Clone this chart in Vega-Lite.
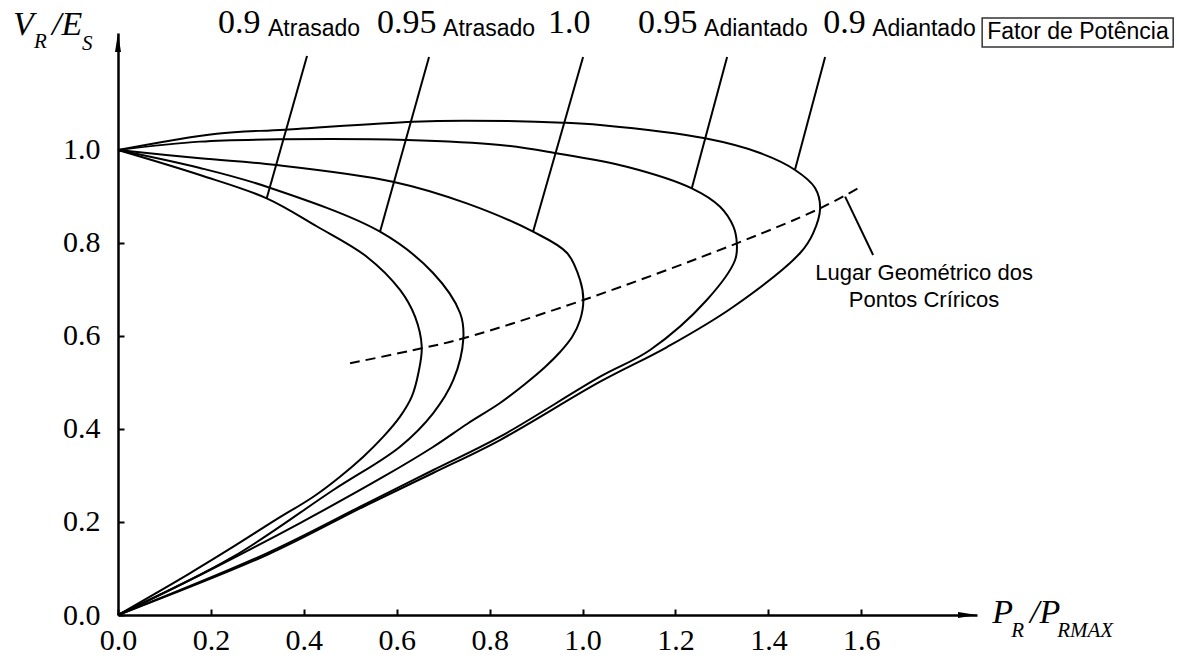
{
  "$schema": "https://vega.github.io/schema/vega-lite/v6.json",
  "width": 859,
  "height": 582,
  "autosize": {"type": "none"},
  "padding": {"left": 118, "top": 33, "right": 202, "bottom": 51},
  "background": "white",
  "config": {"view": {"stroke": null}},
  "datasets": {
    "curves": [
      {"c": "09lag", "i": 0, "x": 0, "y": 1},
      {"c": "09lag", "i": 1, "x": 0.1765, "y": 0.9462},
      {"c": "09lag", "i": 2, "x": 0.3201, "y": 0.8961},
      {"c": "09lag", "i": 3, "x": 0.4276, "y": 0.836},
      {"c": "09lag", "i": 4, "x": 0.5354, "y": 0.7706},
      {"c": "09lag", "i": 5, "x": 0.6071, "y": 0.699},
      {"c": "09lag", "i": 6, "x": 0.6394, "y": 0.6415},
      {"c": "09lag", "i": 7, "x": 0.6538, "y": 0.577},
      {"c": "09lag", "i": 8, "x": 0.6465, "y": 0.5198},
      {"c": "09lag", "i": 9, "x": 0.6323, "y": 0.4695},
      {"c": "09lag", "i": 10, "x": 0.6071, "y": 0.4265},
      {"c": "09lag", "i": 11, "x": 0.5712, "y": 0.3835},
      {"c": "09lag", "i": 12, "x": 0.5281, "y": 0.3405},
      {"c": "09lag", "i": 13, "x": 0.4779, "y": 0.2975},
      {"c": "09lag", "i": 14, "x": 0.4205, "y": 0.2544},
      {"c": "09lag", "i": 15, "x": 0.34, "y": 0.205},
      {"c": "09lag", "i": 16, "x": 0.25, "y": 0.148},
      {"c": "09lag", "i": 17, "x": 0.15, "y": 0.087},
      {"c": "09lag", "i": 18, "x": 0, "y": 0},
      {"c": "095lag", "i": 0, "x": 0, "y": 1},
      {"c": "095lag", "i": 1, "x": 0.1765, "y": 0.9613},
      {"c": "095lag", "i": 2, "x": 0.3201, "y": 0.921},
      {"c": "095lag", "i": 3, "x": 0.564, "y": 0.8243},
      {"c": "095lag", "i": 4, "x": 0.6782, "y": 0.7355},
      {"c": "095lag", "i": 5, "x": 0.7363, "y": 0.6495},
      {"c": "095lag", "i": 6, "x": 0.7434, "y": 0.595},
      {"c": "095lag", "i": 7, "x": 0.7218, "y": 0.5054},
      {"c": "095lag", "i": 8, "x": 0.6782, "y": 0.4337},
      {"c": "095lag", "i": 9, "x": 0.6071, "y": 0.362},
      {"c": "095lag", "i": 10, "x": 0.4635, "y": 0.2688},
      {"c": "095lag", "i": 11, "x": 0.2482, "y": 0.1254},
      {"c": "095lag", "i": 12, "x": 0, "y": 0},
      {"c": "10", "i": 0, "x": 0, "y": 1},
      {"c": "10", "i": 1, "x": 0.1765, "y": 0.982},
      {"c": "10", "i": 2, "x": 0.3408, "y": 0.9677},
      {"c": "10", "i": 3, "x": 0.5915, "y": 0.9319},
      {"c": "10", "i": 4, "x": 0.7507, "y": 0.8853},
      {"c": "10", "i": 5, "x": 0.8934, "y": 0.8243},
      {"c": "10", "i": 6, "x": 0.9666, "y": 0.7785},
      {"c": "10", "i": 7, "x": 0.9946, "y": 0.7204},
      {"c": "10", "i": 8, "x": 1.0017, "y": 0.6774},
      {"c": "10", "i": 9, "x": 0.9946, "y": 0.6344},
      {"c": "10", "i": 10, "x": 0.9774, "y": 0.5978},
      {"c": "10", "i": 11, "x": 0.9516, "y": 0.5656},
      {"c": "10", "i": 12, "x": 0.9193, "y": 0.5333},
      {"c": "10", "i": 13, "x": 0.8762, "y": 0.4968},
      {"c": "10", "i": 14, "x": 0.8224, "y": 0.4559},
      {"c": "10", "i": 15, "x": 0.7513, "y": 0.4108},
      {"c": "10", "i": 16, "x": 0.6781, "y": 0.3613},
      {"c": "10", "i": 17, "x": 0.5705, "y": 0.2968},
      {"c": "10", "i": 18, "x": 0.3918, "y": 0.1978},
      {"c": "10", "i": 19, "x": 0.198, "y": 0.0968},
      {"c": "10", "i": 20, "x": 0, "y": 0},
      {"c": "095lead", "i": 0, "x": 0, "y": 1},
      {"c": "095lead", "i": 1, "x": 0.1765, "y": 1.018},
      {"c": "095lead", "i": 2, "x": 0.3559, "y": 1.023},
      {"c": "095lead", "i": 3, "x": 0.6215, "y": 1.0215},
      {"c": "095lead", "i": 4, "x": 0.8224, "y": 1.0108},
      {"c": "095lead", "i": 5, "x": 0.9372, "y": 0.9942},
      {"c": "095lead", "i": 6, "x": 1.0951, "y": 0.9641},
      {"c": "095lead", "i": 7, "x": 1.2351, "y": 0.9176},
      {"c": "095lead", "i": 8, "x": 1.296, "y": 0.878},
      {"c": "095lead", "i": 9, "x": 1.3247, "y": 0.8351},
      {"c": "095lead", "i": 10, "x": 1.332, "y": 0.7993},
      {"c": "095lead", "i": 11, "x": 1.3283, "y": 0.7634},
      {"c": "095lead", "i": 12, "x": 1.2674, "y": 0.6774},
      {"c": "095lead", "i": 13, "x": 1.1453, "y": 0.5699},
      {"c": "095lead", "i": 14, "x": 1.0377, "y": 0.5125},
      {"c": "095lead", "i": 15, "x": 0.8224, "y": 0.3835},
      {"c": "095lead", "i": 16, "x": 0.6788, "y": 0.3118},
      {"c": "095lead", "i": 17, "x": 0.5354, "y": 0.2402},
      {"c": "095lead", "i": 18, "x": 0.3201, "y": 0.1327},
      {"c": "095lead", "i": 19, "x": 0, "y": 0},
      {"c": "09lead", "i": 0, "x": 0, "y": 1},
      {"c": "09lead", "i": 1, "x": 0.2125, "y": 1.0351},
      {"c": "09lead", "i": 2, "x": 0.3595, "y": 1.0437},
      {"c": "09lead", "i": 3, "x": 0.6351, "y": 1.0609},
      {"c": "09lead", "i": 4, "x": 0.7507, "y": 1.063},
      {"c": "09lead", "i": 5, "x": 0.958, "y": 1.0587},
      {"c": "09lead", "i": 6, "x": 1.0377, "y": 1.0538},
      {"c": "09lead", "i": 7, "x": 1.2637, "y": 1.0251},
      {"c": "09lead", "i": 8, "x": 1.3821, "y": 0.9935},
      {"c": "09lead", "i": 9, "x": 1.4575, "y": 0.957},
      {"c": "09lead", "i": 10, "x": 1.5005, "y": 0.9183},
      {"c": "09lead", "i": 11, "x": 1.5113, "y": 0.8746},
      {"c": "09lead", "i": 12, "x": 1.4962, "y": 0.8208},
      {"c": "09lead", "i": 13, "x": 1.4683, "y": 0.7785},
      {"c": "09lead", "i": 14, "x": 1.3239, "y": 0.6624},
      {"c": "09lead", "i": 15, "x": 1.1819, "y": 0.5763},
      {"c": "09lead", "i": 16, "x": 1.0377, "y": 0.5017},
      {"c": "09lead", "i": 17, "x": 0.8224, "y": 0.3763},
      {"c": "09lead", "i": 18, "x": 0.6782, "y": 0.3054},
      {"c": "09lead", "i": 19, "x": 0.5354, "y": 0.2366},
      {"c": "09lead", "i": 20, "x": 0.3201, "y": 0.129},
      {"c": "09lead", "i": 21, "x": 0, "y": 0}
    ],
    "locus": [
      {"i": 0, "x": 0.4995, "y": 0.5413},
      {"i": 1, "x": 0.6538, "y": 0.5735},
      {"i": 2, "x": 0.7434, "y": 0.595},
      {"i": 3, "x": 1.0017, "y": 0.6774},
      {"i": 4, "x": 1.332, "y": 0.7993},
      {"i": 5, "x": 1.5113, "y": 0.8746},
      {"i": 6, "x": 1.5931, "y": 0.9177}
    ],
    "leaders": [
      {"x": 0.4069, "y": 1.2022, "x2": 0.3201, "y2": 0.8961},
      {"x": 0.6695, "y": 1.2, "x2": 0.564, "y2": 0.8243},
      {"x": 1.0011, "y": 1.2, "x2": 0.8934, "y2": 0.8243},
      {"x": 1.3111, "y": 1.2, "x2": 1.2351, "y2": 0.9176},
      {"x": 1.5221, "y": 1.2, "x2": 1.4575, "y2": 0.9585},
      {"x": 1.5651, "y": 0.8996, "x2": 1.6254, "y2": 0.7742}
    ],
    "arrows": [
      {"dir": "right", "x": 1.849, "y": 0},
      {"dir": "up", "x": 0, "y": 1.2516}
    ],
    "titleBig": [
      {"t": "V", "x": -0.226, "y": 1.247},
      {"t": "/E", "x": -0.1421, "y": 1.247},
      {"t": "P", "x": 1.882, "y": -0.0172},
      {"t": "/P", "x": 1.963, "y": -0.0172}
    ],
    "titleSub": [
      {"t": "R", "x": -0.1808, "y": 1.219},
      {"t": "S", "x": -0.0775, "y": 1.215},
      {"t": "R", "x": 1.9225, "y": -0.0473},
      {"t": "RMAX", "x": 2.0215, "y": -0.0473}
    ],
    "pfNum": [
      {"t": "0.9", "x": 0.2153, "y": 1.2516},
      {"t": "0.95", "x": 0.5576, "y": 1.2516},
      {"t": "1.0", "x": 0.9257, "y": 1.2516},
      {"t": "0.95", "x": 1.1195, "y": 1.2516},
      {"t": "0.9", "x": 1.5178, "y": 1.2516}
    ],
    "pfWord": [
      {"t": "Atrasado", "x": 0.3229, "y": 1.246},
      {"t": "Atrasado", "x": 0.6997, "y": 1.246},
      {"t": "Adiantado", "x": 1.2616, "y": 1.246},
      {"t": "Adiantado", "x": 1.6233, "y": 1.246},
      {"t": "Fator de Potência", "x": 1.8708, "y": 1.2387}
    ],
    "box": [
      {"x": 1.8601, "x2": 2.2713, "y": 1.2839, "y2": 1.2215}
    ],
    "note": [
      {"t": "Lugar Geométrico dos", "x": 1.735, "y": 0.7204},
      {"t": "Pontos Críricos", "x": 1.735, "y": 0.6624}
    ]
  },
  "encoding": {
    "x": {
      "field": "x", "type": "quantitative",
      "scale": {"domain": [0, 1.849], "nice": false, "zero": false},
      "axis": {
        "orient": "bottom", "title": null, "grid": false,
        "values": [0, 0.2, 0.4, 0.6, 0.8, 1.0, 1.2, 1.4, 1.6],
        "format": ".1f", "labelFont": "Liberation Serif", "labelFontSize": 30,
        "labelColor": "black", "labelPadding": 16, "labelOverlap": false, "labelFlush": false,
        "domainColor": "black", "domainWidth": 2.5,
        "tickColor": "black", "tickWidth": 2, "tickSize": -6
      }
    },
    "y": {
      "field": "y", "type": "quantitative",
      "scale": {"domain": [0, 1.2516], "nice": false, "zero": false},
      "axis": {
        "orient": "left", "title": null, "grid": false,
        "values": [0, 0.2, 0.4, 0.6, 0.8, 1.0],
        "format": ".1f", "labelFont": "Liberation Serif", "labelFontSize": 30,
        "labelColor": "black", "labelPadding": 24, "labelOverlap": false, "labelFlush": false,
        "domainColor": "black", "domainWidth": 2.5,
        "tickColor": "black", "tickWidth": 2, "tickSize": -6
      }
    }
  },
  "layer": [
    {
      "data": {"name": "curves"},
      "mark": {"type": "line", "color": "black", "strokeWidth": 2, "interpolate": "catmull-rom"},
      "encoding": {
        "detail": {"field": "c", "type": "nominal"},
        "order": {"field": "i", "type": "quantitative"}
      }
    },
    {
      "data": {"name": "locus"},
      "mark": {"type": "line", "color": "black", "strokeWidth": 2, "strokeDash": [10, 6], "interpolate": "catmull-rom"},
      "encoding": {
        "order": {"field": "i", "type": "quantitative"}
      }
    },
    {
      "data": {"name": "leaders"},
      "mark": {"type": "rule", "color": "black", "strokeWidth": 2},
      "encoding": {
        "x2": {"field": "x2"},
        "y2": {"field": "y2"}
      }
    },
    {
      "data": {"name": "arrows"},
      "mark": {"type": "point", "filled": true, "color": "black", "opacity": 1, "size": 400},
      "encoding": {
        "shape": {
          "field": "dir", "type": "nominal", "legend": null,
          "scale": {"domain": ["right", "up"], "range": ["M0,0L-1.9,-0.3L-1.9,0.3Z", "M0,0L-0.3,1.9L0.3,1.9Z"]}
        }
      }
    },
    {
      "data": {"name": "box"},
      "mark": {"type": "rect", "fill": "white", "stroke": "#333333", "strokeWidth": 1.5},
      "encoding": {
        "x2": {"field": "x2"},
        "y2": {"field": "y2"}
      }
    },
    {
      "data": {"name": "titleBig"},
      "mark": {"type": "text", "font": "Liberation Serif", "fontStyle": "italic", "fontSize": 34, "align": "left", "baseline": "alphabetic", "color": "black"},
      "encoding": {"text": {"field": "t"}}
    },
    {
      "data": {"name": "titleSub"},
      "mark": {"type": "text", "font": "Liberation Serif", "fontStyle": "italic", "fontSize": 21, "align": "left", "baseline": "alphabetic", "color": "black"},
      "encoding": {"text": {"field": "t"}}
    },
    {
      "data": {"name": "pfNum"},
      "mark": {"type": "text", "font": "Liberation Serif", "fontSize": 34, "align": "left", "baseline": "alphabetic", "color": "black"},
      "encoding": {"text": {"field": "t"}}
    },
    {
      "data": {"name": "pfWord"},
      "mark": {"type": "text", "font": "Liberation Sans", "fontSize": 23, "align": "left", "baseline": "alphabetic", "color": "black"},
      "encoding": {"text": {"field": "t"}}
    },
    {
      "data": {"name": "note"},
      "mark": {"type": "text", "font": "Liberation Sans", "fontSize": 22, "align": "center", "baseline": "alphabetic", "color": "black"},
      "encoding": {"text": {"field": "t"}}
    }
  ]
}
